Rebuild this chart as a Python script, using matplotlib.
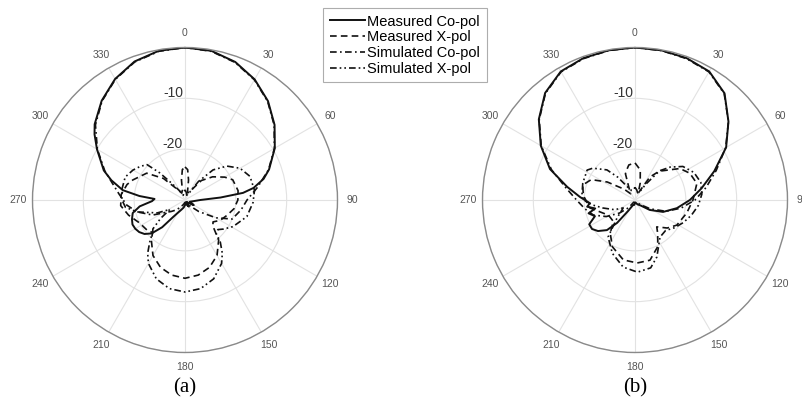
import numpy as np
import matplotlib.pyplot as plt

plt.rcParams['font.family'] = ['Liberation Sans', 'DejaVu Sans']

# ---- (a) pattern data: angle [deg], gain [dB] ----
a_mc_ang = [0, 10, 20, 30, 40, 50, 60, 70, 75, 80, 83, 86, 90, 100, 110, 120, 130, 140, 150, 160, 170, 180, 190, 200, 210,
            215, 220, 225, 230, 235, 240, 245, 250, 256, 262, 268, 272, 275, 279, 285, 290, 300, 306, 310, 320, 330, 340, 350, 360]
a_mc_db = [0, -0.2, -1.1, -2.6, -4.6, -7.0, -9.6, -12.4, -14, -16.3, -18.5, -23, -27, -28.5, -29, -28, -29, -29.5, -28.5, -29, -29.5, -29, -28.5, -28, -27,
           -25.9, -23, -20.7, -19.6, -19, -18.7, -18.6, -18.9, -19.4, -21, -23.5, -24, -21, -17.6, -15, -13, -10, -8, -6.8, -4.5, -2.5, -1, -0.2, 0]

a_sc_ang = [0, 10, 20, 30, 40, 50, 60, 70, 80, 90, 100, 112, 120, 130, 140, 160, 180, 200, 220, 230, 236,
            245, 256, 265, 275, 285, 290, 300, 310, 320, 330, 340, 350, 360]
a_sc_db = [0, -0.3, -1.2, -2.7, -4.7, -7.1, -9.7, -12.5, -15.5, -17.8, -18.8, -20, -23, -26.5, -28.5, -29.5, -29.5, -29, -27.5, -26.5, -25.7,
           -23, -20.3, -18.5, -17, -14.8, -13.2, -10.1, -7, -4.6, -2.6, -1.1, -0.3, 0]

a_mx_ang = [0, 5, 10, 15, 20, 30, 40, 50, 60, 67, 80, 90, 100, 110, 120, 128, 133, 140, 150, 160, 170, 180, 190, 200, 210,
            220, 225, 230, 243, 255, 265, 275, 285, 291, 305, 315, 325, 335, 345, 350, 355, 360]
a_mx_db = [-23.5, -24, -26, -28, -28.5, -28, -25, -22.9, -21, -19.8, -19.4, -19.6, -20.2, -21.2, -22, -23, -22.5, -19.7, -17.4, -15.9, -15, -14.6, -15, -15.9, -17.4,
           -19.7, -21, -20.5, -20, -18.5, -17.3, -17.4, -18.2, -19, -20.8, -24, -27.5, -28.5, -28, -26, -24, -23.5]

a_sx_ang = [0, 10, 20, 30, 36, 43, 51, 60, 70, 82, 92, 105, 119, 127, 132, 137, 140, 145, 150, 160, 170, 180, 190, 200, 210, 215, 220,
            225, 228, 233, 238, 245, 256, 263, 270, 279, 291, 300, 307, 313, 317, 322, 330, 340, 350, 360]
a_sx_db = [-28, -28.5, -29, -28.5, -25.5, -21.9, -19.4, -17.5, -16.4, -16.2, -16.6, -17.4, -19.2, -20.5, -21.3, -21, -19.2, -17.2, -15.6, -13.5, -12.3, -11.9, -12.3, -13.5, -15.6, -17.2, -19.2,
           -21, -21.5, -24, -26.5, -24, -20.3, -18.2, -17.6, -17.4, -17.4, -18.2, -19, -19.8, -22.7, -26, -28, -29, -28.5, -28]

# ---- (b) pattern data ----
b_mc_ang = [0, 10, 20, 30, 40, 50, 60, 70, 80, 90, 101, 113, 124, 135, 150, 170, 190, 200, 212, 218, 223, 230, 236, 242, 248, 254,
            258, 262, 266, 273, 281, 290, 300, 310, 320, 330, 340, 350, 360]
b_mc_db = [0, -0.1, -0.3, -0.8, -2.6, -6, -9.3, -13.4, -16.7, -19.2, -21.6, -24, -26.5, -28.5, -29, -29.5, -29, -29, -27.5, -24.3, -21.9, -20.5, -19.8, -19.8, -21.5, -20.5,
           -22, -20.5, -21.1, -19.2, -16.4, -12.2, -8.6, -5.3, -2.5, -0.8, -0.3, -0.1, 0]

b_sc_ang = [0, 10, 20, 30, 40, 50, 60, 70, 80, 90, 100, 110, 120, 130, 150, 180, 210, 220, 230, 240, 250, 260, 270, 280, 290,
            300, 310, 320, 330, 340, 350, 360]
b_sc_db = [0, -0.15, -0.4, -0.9, -2.7, -6, -9.4, -13, -15.8, -18.2, -20.8, -23.5, -26.5, -28.5, -29.5, -29.5, -29.5, -28, -26, -23.5, -21.3, -20, -18.5, -16.2, -12.5,
           -8.7, -5.4, -2.6, -0.9, -0.4, -0.15, 0]

b_mx_ang = [0, 10, 17, 25, 33, 40, 47, 55, 64, 75, 90, 104, 121, 131, 141, 146, 154, 166, 178, 191, 206, 217, 225, 240, 260,
            275, 286, 295, 303, 315, 325, 335, 340, 345, 350, 360]
b_mx_db = [-22.7, -24, -26.5, -28.5, -24.6, -22.6, -21.4, -19.2, -18, -17.4, -18.6, -19.5, -20.4, -21.6, -23.2, -22, -19.8, -17.8, -17.6, -18, -19.8, -21.9, -24, -24, -21,
           -19.8, -19.3, -20.5, -23.5, -27, -28.5, -27, -24.5, -23.8, -23, -22.7]

b_sx_ang = [0, 10, 20, 30, 35, 40, 47, 55, 65, 75, 85, 95, 105, 115, 125, 135, 146, 159, 167, 178, 190, 203, 216, 225, 236,
            245, 256, 263, 270, 277, 288, 302, 307, 317, 323, 330, 340, 350, 360]
b_sx_db = [-27.5, -28, -28.5, -28, -26, -22.5, -20.5, -18.5, -17.2, -16.6, -16.8, -17.5, -18.5, -19.5, -20.5, -21.5, -21.2, -18, -16.3, -15.8, -16.6, -18.6, -21, -25, -27.2,
           -25.5, -23.5, -21.7, -19.8, -19.5, -19.2, -18.9, -19.6, -21.9, -24.4, -27, -28, -28, -27.5]

labels = ['Measured Co-pol', 'Measured X-pol', 'Simulated Co-pol', 'Simulated X-pol']
styles = ['-', (0, (4, 2.5)), (0, (4, 2, 1, 2)), (0, (4, 1.8, 1, 1.8, 1, 1.8))]
widths = [1.4, 1.2, 1.2, 1.2]

panels = [
    ('(a)', 32.5, [(a_mc_ang, a_mc_db), (a_mx_ang, a_mx_db), (a_sc_ang, a_sc_db), (a_sx_ang, a_sx_db)]),
    ('(b)', 482.5, [(b_mc_ang, b_mc_db), (b_mx_ang, b_mx_db), (b_sc_ang, b_sc_db), (b_sx_ang, b_sx_db)]),
]

W, H = 802, 413
fig = plt.figure(figsize=(W / 100, H / 100), dpi=100)

for cap, left_px, curves in panels:
    ax = fig.add_axes([left_px / W, (H - 352.5) / H, 305 / W, 305 / H], projection='polar')
    ax.set_theta_zero_location('N')
    ax.set_theta_direction(-1)
    ax.set_ylim(-30, 0)
    ax.set_yticks([-20, -10, 0])
    ax.set_yticklabels([])
    ax.set_xticks(np.deg2rad(np.arange(0, 360, 30)))
    ax.set_xticklabels([])
    ax.tick_params(length=0)
    ax.grid(True, color='#e2e2e2', lw=0.8)
    ax.spines['polar'].set_color('#8a8a8a')
    ax.spines['polar'].set_linewidth(1.0)

    # draw simulated first, measured on top
    for i in (3, 2, 1, 0):
        ang, db = curves[i]
        ax.plot(np.deg2rad(ang), db, color='#111111', ls=styles[i], lw=widths[i], label=labels[i])

    for a in range(0, 360, 30):
        ax.text(np.deg2rad(a), 2.9, str(a), ha='center', va='center', fontsize=7.5, color='#555555')
    for v in (-10, -20):
        ax.annotate(str(v), xy=(0, v), xytext=(-1.5, 1), textcoords='offset points',
                    ha='right', va='baseline', fontsize=10, color='#333333')

    fig.text((left_px + 152.5) / W, 1 - 388 / H, cap, ha='center', va='center',
             fontsize=15, family='Liberation Serif')

    if cap == '(a)':
        h, l = ax.get_legend_handles_labels()
        order = [l.index(x) for x in labels]
        leg = fig.legend([h[k] for k in order], labels, loc='upper left',
                         bbox_to_anchor=(323 / W, 1 - 8 / H), fontsize=10.5, frameon=True,
                         fancybox=False, edgecolor='#999999', handlelength=2.4,
                         handletextpad=0.2, borderpad=0.45, labelspacing=0.12, borderaxespad=0)
        leg.get_frame().set_linewidth(0.8)

fig.savefig('out.png', dpi=100)
